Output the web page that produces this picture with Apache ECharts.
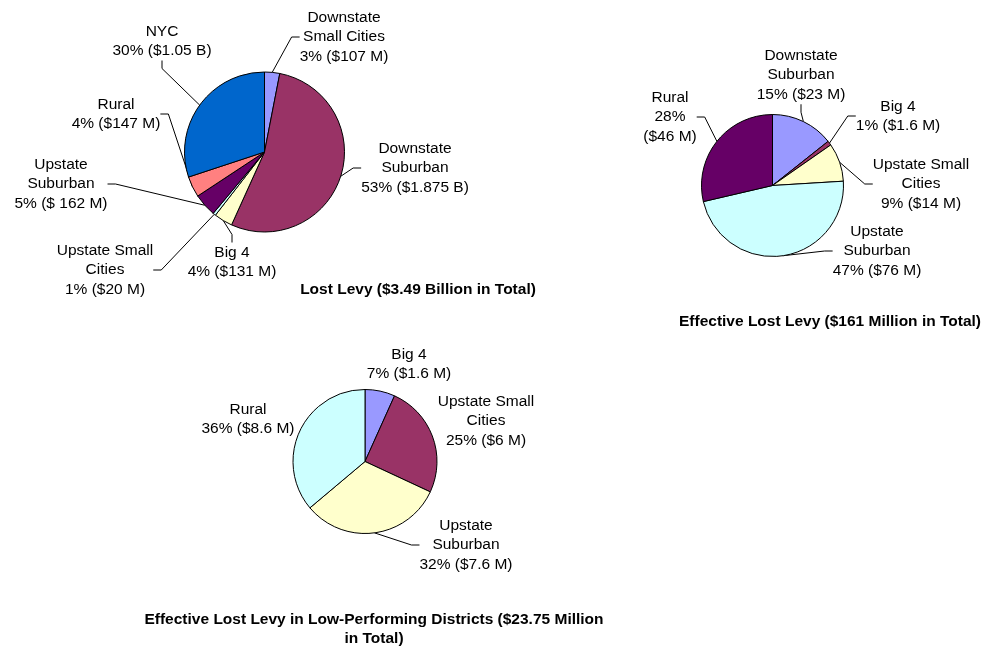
<!DOCTYPE html>
<html>
<head>
<meta charset="utf-8">
<title>Lost Levy</title>
<script src="https://cdn.jsdelivr.net/npm/echarts@6/dist/echarts.min.js"></script>
<style>
  html, body { margin: 0; padding: 0; background: #fff; }
  #chart { width: 994px; height: 646px; }
</style>
</head>
<body>
<div id="chart"></div>
<script>
// Lost levy by region type (amounts in $ millions)
const levyNames = ['Downstate\nSmall Cities', 'Downstate\nSuburban', 'Big 4', 'Upstate Small\nCities', 'Upstate\nSuburban', 'Rural', 'NYC'];
const levyValues = [107, 1875, 131, 20, 162, 147, 1050];
const levyPct = ['3%', '53%', '4%', '1%', '5%', '4%', '30%'];

// Effective lost levy ($ millions)
const effNames = ['Downstate\nSuburban', 'Big 4', 'Upstate Small\nCities', 'Upstate\nSuburban', 'Rural'];
const effValues = [23, 1.6, 14, 76, 46];
const effPct = ['15%', '1%', '9%', '47%', '28%'];

// Effective lost levy in low-performing districts ($ millions)
const lowNames = ['Big 4', 'Upstate Small\nCities', 'Upstate\nSuburban', 'Rural'];
const lowValues = [1.6, 6, 7.6, 8.6];
const lowPct = ['7%', '25%', '32%', '36%'];

const titles = [
  'Lost Levy ($3.49 Billion in Total)',
  'Effective Lost Levy ($161 Million in Total)',
  'Effective Lost Levy in Low-Performing Districts ($23.75 Million\nin Total)'
];

const palette = ['#9999FF', '#993366', '#FFFFCC', '#CCFFFF', '#660066', '#FF8080', '#0066CC'];
const FONT = '"Liberation Sans", Arial, sans-serif';
const FS = 15.5;
const LH = 19.5;

// $ millions -> "$107 M" / "$1.875 B"
function money(v, spaced) {
  const cur = spaced ? '$ ' : '$';
  return v >= 1000 ? cur + (v / 1000) + ' B' : cur + v + ' M';
}

// label anchor points (text block centres) for each pie
const levyLabelPos = [[344, 37], [415, 168], [232, 262], [105, 270], [61, 184], [116, 114], [162, 41]];
const effLabelPos = [[801, 75], [898, 116], [921, 184], [877, 251], [670, 117]];
const lowLabelPos = [[409, 364], [486, 421], [466, 545], [248, 419]];

function buildPie(names, values, pct, labelPos, center, radius, opts) {
  opts = opts || {};
  const noLine = opts.noLine || [];
  const stacked = opts.stacked || [];
  const spaced = opts.spaced || [];
  return {
    type: 'pie',
    center: center,
    radius: radius,
    startAngle: 90,
    clockwise: true,
    avoidLabelOverlap: false,
    animation: false,
    silent: true,
    itemStyle: { borderColor: '#000', borderWidth: 1 },
    label: {
      show: true,
      position: 'outside',
      color: '#000',
      fontFamily: FONT,
      fontSize: FS,
      lineHeight: LH,
      align: 'center'
    },
    labelLine: {
      show: true,
      length: 8,
      length2: 8,
      smooth: false,
      lineStyle: { color: '#000', width: 1 }
    },
    labelLayout: function (p) {
      const xy = labelPos[p.dataIndex];
      return { x: xy[0], y: xy[1], align: 'center', verticalAlign: 'middle' };
    },
    data: values.map(function (v, i) {
      const sep = stacked.indexOf(i) >= 0 ? '\n' : ' ';
      const amt = money(v, spaced.indexOf(i) >= 0);
      return {
        name: names[i],
        value: v,
        itemStyle: { color: palette[i] },
        labelLine: { show: noLine.indexOf(i) < 0 },
        label: { formatter: names[i] + '\n' + pct[i] + sep + '(' + amt + ')' }
      };
    })
  };
}

const chart = echarts.init(document.getElementById('chart'), null, { renderer: 'canvas' });

chart.setOption({
  backgroundColor: '#fff',
  animation: false,
  graphic: [
    { type: 'text', x: 418, y: 290, style: { text: titles[0], font: 'bold ' + FS + 'px ' + FONT, fill: '#000', textAlign: 'center', textVerticalAlign: 'middle' } },
    { type: 'text', x: 830, y: 322, style: { text: titles[1], font: 'bold ' + FS + 'px ' + FONT, fill: '#000', textAlign: 'center', textVerticalAlign: 'middle' } },
    { type: 'text', x: 374, y: 629, style: { text: titles[2], font: 'bold ' + FS + 'px ' + FONT, lineHeight: LH, fill: '#000', textAlign: 'center', textVerticalAlign: 'middle' } }
  ],
  series: [
    buildPie(levyNames, levyValues, levyPct, levyLabelPos, [264.5, 152], 80, { spaced: [4] }),
    buildPie(effNames, effValues, effPct, effLabelPos, [772.5, 185.5], 71, { stacked: [4] }),
    buildPie(lowNames, lowValues, lowPct, lowLabelPos, [365, 461.5], 72, { noLine: [0, 1, 3] })
  ]
});
</script>
</body>
</html>
